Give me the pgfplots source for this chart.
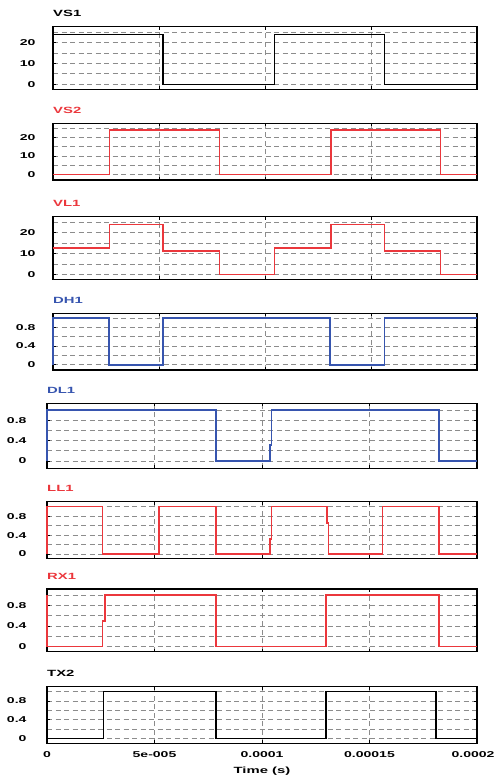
\documentclass[border=0pt]{standalone}
\usepackage{fontspec}
\setmainfont{Liberation Sans}[FakeStretch=1.65]
\usepackage{pgfplots}
\pgfplotsset{compat=1.18}
\definecolor{sigred}{RGB}{235,55,60}
\definecolor{sigblue}{RGB}{55,85,175}
\definecolor{gridgray}{RGB}{140,140,140}
\pgfplotsset{
 base/.style={scale only axis, anchor=north west, xmin=0, xmax=2e-4, clip=false,
   xtick={0,5e-5,1e-4,1.5e-4,2e-4}, xticklabels={,,,,}, scaled x ticks=false, scaled y ticks=false,
   grid=both,
   major grid style={gridgray, line width=0.9pt, dash pattern=on 5pt off 3.5pt},
   minor grid style={gridgray, line width=0.9pt, dash pattern=on 5pt off 3.5pt},
   axis line style={black, line width=1.4pt},
   tick style={black, line width=0.8pt},
   major tick length=3pt, minor tick length=0pt,
   tick align=inside,
   /pgf/number format/assume math mode=true,
   tick label style={font=\fontsize{8.5}{10}\selectfont\bfseries},
   xticklabel style={yshift=-5pt},
 },
 top/.style={base, width=424pt, yticklabel style={xshift=-14pt}},
 bot/.style={base, width=430pt, yticklabel style={xshift=-17pt}},
 vs/.style={ytick={0,10,20}, minor ytick={5,15,25}, yticklabels={0,10,20}},
 dg/.style={ytick={0,0.4,0.8}, minor ytick={0.2,0.6,1}, yticklabels={0,0.4,0.8}},
 sig/.style={const plot, line width=1.6pt, no marks},
}
\newcommand{\ttl}[2]{\node[anchor=base west, inner sep=0pt, yshift=10pt, text=#1, font=\fontsize{9}{10}\selectfont\bfseries] at (rel axis cs:0,1) {#2};}
\begin{document}
\begin{tikzpicture}[x=1pt,y=1pt]
\path[use as bounding box] (0,0) rectangle (496,-778);

\begin{axis}[top, vs, at={(53pt,-26.7pt)}, height=62.6pt, ymin=-2.4, ymax=27.7]
\addplot[sig, black] coordinates {(0,24) (5.2e-5,0) (1.044e-4,24) (1.563e-4,0) (2e-4,0)};
\ttl{black}{VS1}
\end{axis}

\begin{axis}[top, vs, at={(53pt,-123.3pt)}, height=56.7pt, ymin=-2.84, ymax=27.5]
\addplot[sig, sigred] coordinates {(0,0) (2.66e-5,24) (7.85e-5,0) (1.31e-4,24) (1.827e-4,0) (2e-4,0)};
\ttl{sigred}{VS2}
\end{axis}

\begin{axis}[top, vs, at={(53pt,-216.7pt)}, height=62.6pt, ymin=-2.4, ymax=27.8]
\addplot[sig, sigred] coordinates {(0,12.7) (2.66e-5,24) (5.2e-5,11.3) (7.85e-5,0) (1.044e-4,12.7) (1.31e-4,24) (1.563e-4,11.3) (1.827e-4,0) (2e-4,0)};
\ttl{sigred}{VL1}
\end{axis}

\begin{axis}[top, dg, at={(53pt,-313.3pt)}, height=56.7pt, ymin=-0.113, ymax=1.1]
\addplot[sig, sigblue] coordinates {(0,0) (0,1) (2.63e-5,0) (5.2e-5,1) (1.307e-4,0) (1.563e-4,1) (2e-4,1)};
\ttl{sigblue}{DH1}
\end{axis}

\begin{axis}[bot, dg, at={(47pt,-403.3pt)}, height=65pt, ymin=-0.143, ymax=1.131]
\addplot[sig, sigblue] coordinates {(0,0) (0,1) (7.86e-5,0) (1.037e-4,0.31) (1.045e-4,1) (1.823e-4,0) (2e-4,0)};
\ttl{sigblue}{DL1}
\end{axis}

\begin{axis}[bot, dg, at={(47pt,-501.7pt)}, height=56.6pt, ymin=-0.09, ymax=1.105]
\addplot[sig, sigred] coordinates {(0,0) (0,1) (2.59e-5,0) (5.22e-5,1) (7.86e-5,0) (1.037e-4,0.32) (1.045e-4,1) (1.301e-4,0.65) (1.309e-4,0) (1.561e-4,1) (1.823e-4,0) (2e-4,0)};
\ttl{sigred}{LL1}
\end{axis}

\begin{axis}[bot, dg, at={(47pt,-589pt)}, height=62.7pt, ymin=-0.1, ymax=1.12]
\addplot[sig, sigred] coordinates {(0,1) (0,0) (2.59e-5,0.5) (2.71e-5,1) (7.86e-5,0) (1.298e-4,1) (1.822e-4,0) (2e-4,0)};
\ttl{sigred}{RX1}
\end{axis}

\begin{axis}[bot, dg, at={(47pt,-686.7pt)}, height=56.6pt, ymin=-0.107, ymax=1.107,
  xticklabels={0,5e-005,0.0001,0.00015,\hspace*{-8pt}0.0002}]
\addplot[sig, black] coordinates {(0,0) (2.62e-5,1) (7.86e-5,0) (1.298e-4,1) (1.809e-4,0) (2e-4,0)};
\ttl{black}{TX2}
\node[anchor=north, inner sep=0pt, yshift=-23pt, font=\fontsize{9}{10}\selectfont\bfseries] at (rel axis cs:0.5,0) {Time (s)};
\end{axis}
\end{tikzpicture}
\end{document}
